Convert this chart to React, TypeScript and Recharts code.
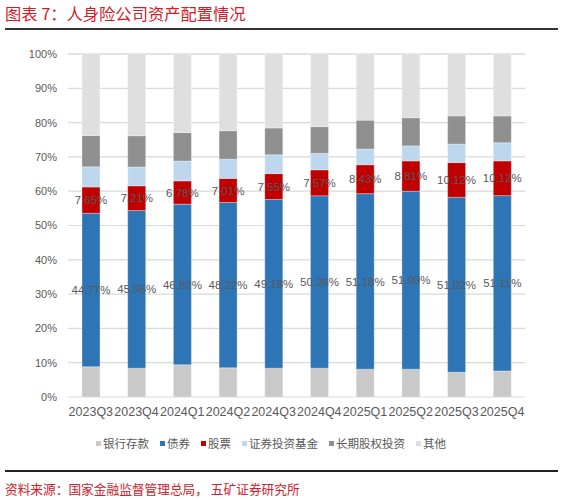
import { Bar, BarChart, CartesianGrid, LabelList, XAxis, YAxis } from "recharts";

const quarters = [
  "2023Q3", "2023Q4", "2024Q1", "2024Q2", "2024Q3",
  "2024Q4", "2025Q1", "2025Q2", "2025Q3", "2025Q4",
];

// 占比 (%)
const bankDeposit = [8.8, 8.4, 9.4, 8.5, 8.4, 8.4, 8.1, 8.1, 7.2, 7.6];
const bonds = [44.77, 45.96, 46.82, 48.22, 49.18, 50.26, 51.18, 51.9, 51.02, 51.11];
const stocks = [7.65, 7.21, 6.78, 7.01, 7.55, 7.57, 8.43, 8.81, 10.12, 10.12];
const funds = [5.9, 5.5, 5.8, 5.6, 5.5, 4.8, 4.6, 4.4, 5.4, 5.3];
const equityInvest = [9.1, 9.1, 8.3, 8.3, 7.8, 7.8, 8.4, 8.2, 8.2, 7.8];
const others = [23.78, 23.83, 22.9, 22.37, 21.57, 21.17, 19.29, 18.59, 18.06, 18.07];

const yTicks = [0, 10, 20, 30, 40, 50, 60, 70, 80, 90, 100];

const series = [
  { key: "bank", name: "银行存款", color: "#c9c9c9" },
  { key: "bond", name: "债券", color: "#2e75b6" },
  { key: "stock", name: "股票", color: "#c00000" },
  { key: "fund", name: "证券投资基金", color: "#bdd7ee" },
  { key: "equity", name: "长期股权投资", color: "#8f8f8f" },
  { key: "other", name: "其他", color: "#dfdfdf" },
];

const data = quarters.map((q, i) => ({
  quarter: q,
  bank: bankDeposit[i],
  bond: bonds[i],
  stock: stocks[i],
  fund: funds[i],
  equity: equityInvest[i],
  other: others[i],
}));

const latin = "'Liberation Sans', Arial, sans-serif";
const cjk = "'Noto Sans CJK SC', sans-serif";
const red = "#d0202a";
const gray = "#595959";

const pct = (v: any) => Number(v).toFixed(2) + "%";

export default function App() {
  return (
    <div
      style={{
        position: "absolute",
        left: 0,
        top: 0,
        width: 564,
        height: 500,
        background: "#fff",
        overflow: "hidden",
      }}
    >
      <div
        style={{
          position: "absolute",
          left: 5,
          top: 2,
          fontFamily: cjk,
          fontSize: 16.3,
          lineHeight: "22px",
          color: red,
          whiteSpace: "nowrap",
        }}
      >
        图表 7：人身险公司资产配置情况
      </div>
      <div style={{ position: "absolute", left: 5, top: 28, width: 553, height: 2, background: "#333" }} />

      <div style={{ position: "absolute", left: 0, top: 0 }}>
        <BarChart
          width={564}
          height={430}
          data={data}
          barSize={18}
          margin={{ top: 54, right: 39, left: 0, bottom: 3 }}
        >
          <CartesianGrid vertical={false} stroke="#d9d9d9" strokeWidth={1.2} />
          <XAxis
            dataKey="quarter"
            interval={0}
            tickLine={false}
            axisLine={false}
            tickMargin={4}
            height={30}
            tick={{ fill: gray, fontSize: 12.5, fontFamily: latin }}
          />
          <YAxis
            domain={[0, 100]}
            ticks={yTicks}
            width={68}
            tickLine={false}
            axisLine={false}
            tickMargin={5}
            tickFormatter={(v) => v + "%"}
            tick={{ fill: gray, fontSize: 11, fontFamily: latin }}
          />
          {series.map((s) => (
            <Bar
              key={s.key}
              dataKey={s.key}
              name={s.name}
              stackId="a"
              fill={s.color}
              stroke="#ffffff"
              strokeOpacity={0.6}
              strokeWidth={0.5}
              isAnimationActive={false}
            >
              {(s.key === "bond" || s.key === "stock") && (
                <LabelList
                  dataKey={s.key}
                  position="center"
                  formatter={pct}
                  fill={gray}
                  fontSize={11.5}
                  fontFamily={latin}
                />
              )}
            </Bar>
          ))}
        </BarChart>
      </div>

      <div
        style={{
          position: "absolute",
          left: 96,
          top: 436,
          display: "flex",
          alignItems: "center",
          fontFamily: cjk,
          fontSize: 11.5,
          lineHeight: "14px",
          color: gray,
          whiteSpace: "nowrap",
        }}
      >
        {series.map((s) => (
          <div key={s.key} style={{ display: "flex", alignItems: "center", marginRight: 11 }}>
            <span style={{ width: 5, height: 5, background: s.color, marginRight: 2, display: "inline-block" }} />
            <span>{s.name}</span>
          </div>
        ))}
      </div>

      <div style={{ position: "absolute", left: 5, top: 470, width: 553, height: 2, background: "#222" }} />
      <div
        style={{
          position: "absolute",
          left: 5,
          top: 480,
          fontFamily: cjk,
          fontSize: 12.7,
          lineHeight: "18px",
          color: red,
          whiteSpace: "nowrap",
        }}
      >
        资料来源：国家金融监督管理总局， 五矿证券研究所
      </div>
    </div>
  );
}
